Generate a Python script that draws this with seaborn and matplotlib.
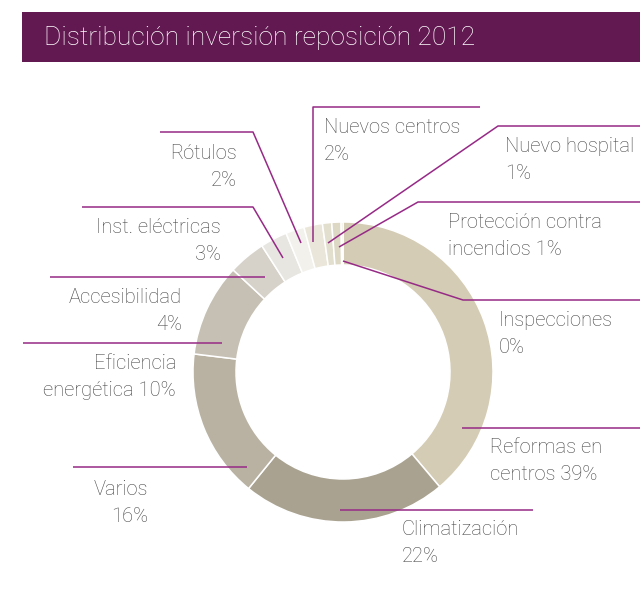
import matplotlib
matplotlib.use("Agg")
import matplotlib.pyplot as plt
from matplotlib.patches import Rectangle
import seaborn as sns

# Replacement investment by concept, 2012 (percent of total)
categories = [
    "Reformas en centros", "Climatización", "Varios", "Eficiencia energética",
    "Accesibilidad", "Inst. eléctricas", "Rótulos", "Nuevos centros",
    "Nuevo hospital", "Protección contra incendios", "Inspecciones",
]
shares = [38.9, 22.0, 16.1, 10.0, 4.0, 2.9, 2.0, 2.0, 1.0, 1.0, 0.2]
label_text = [
    "Reformas en\ncentros {p}", "Climatización\n{p}", "Varios\n{p}",
    "Eficiencia\nenergética {p}", "Accesibilidad\n{p}", "Inst. eléctricas\n{p}",
    "Rótulos\n{p}", "Nuevos centros\n{p}", "Nuevo hospital\n{p}",
    "Protección contra\nincendios {p}", "Inspecciones\n{p}",
]
title = "Distribución inversión reposición 2012"

slice_colors = [
    "#d4ccb4", "#a9a290", "#b9b2a3", "#c6c0b4", "#d6d2ca", "#e8e6e1",
    "#f2f1ec", "#eae7da", "#e3dfce", "#ddd8c4", "#d8d2bd",
]
ACCENT = "#621850"
LEADER = "#962a86"
TEXT = "#454545"

W, H = 640, 589
sns.set_theme(style="white")
plt.rcParams["font.family"] = ["Roboto", "DejaVu Sans"]

fig = plt.figure(figsize=(W / 100, H / 100), dpi=100)
ax = fig.add_axes([0, 0, 1, 1])


def py(y):
    """Pixel row (from top) to axis y."""
    return H - y


# Donut
cx, cy, r_out, ring = 343, 372, 150, 43
ax.pie(shares, colors=slice_colors, startangle=90, counterclock=False,
       center=(cx, py(cy)), radius=r_out, frame=True,
       wedgeprops=dict(width=ring, edgecolor="white", linewidth=1.1))
ax.set_xlim(0, W)
ax.set_ylim(0, H)
ax.set_aspect("equal")
ax.axis("off")

# Title band
ax.add_patch(Rectangle((22, py(62)), W - 22, 50, color=ACCENT, lw=0))
ax.text(44, py(38), title, color="white", fontsize=19, weight="light",
        va="center", ha="left")

# Leader lines: (points along the line, text anchor, alignment)
layout = [
    ([(462, 428), (640, 428)], (490, 461), "left"),
    ([(340, 510), (533, 510)], (402, 543), "left"),
    ([(247, 467), (73, 467)], (148, 503), "right"),
    ([(222, 343), (23, 343)], (176, 377), "right"),
    ([(265, 277), (50, 277)], (182, 311), "right"),
    ([(283, 258), (253, 207), (82, 207)], (221, 241), "right"),
    ([(301, 243), (253, 132), (160, 132)], (237, 167), "right"),
    ([(313, 242), (313, 107), (480, 107)], (324, 141), "left"),
    ([(328, 243), (498, 126), (640, 126)], (505, 160), "left"),
    ([(339, 247), (418, 202), (640, 202)], (448, 236), "left"),
    ([(343, 261), (463, 300), (640, 300)], (499, 334), "left"),
]

for share, fmt, (pts, (tx, ty), ha) in zip(shares, label_text, layout):
    xs = [p[0] for p in pts]
    ys = [py(p[1]) for p in pts]
    ax.plot(xs, ys, color=LEADER, lw=1.1, solid_capstyle="butt")
    ax.text(tx, py(ty), fmt.format(p=f"{round(share)}%"), color=TEXT,
            fontsize=14.5, weight="light", ha=ha, va="center",
            multialignment=ha, linespacing=1.55)

fig.savefig("out.png", dpi=100, facecolor="white")
